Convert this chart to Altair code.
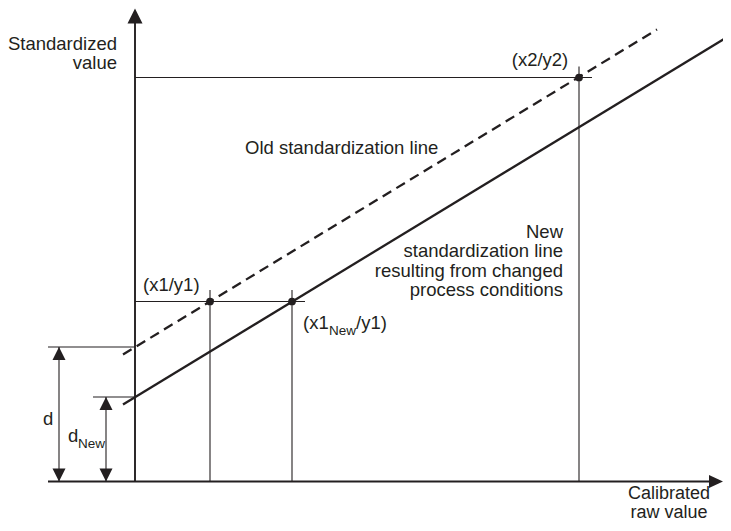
import altair as alt
import pandas as pd

# ---- coordinate frame (origin at the axis crossing, units ~ screen pixels) ----
X_DOMAIN = [-127, 588]
Y_DOMAIN = [-40.5, 473.5]
W, H = 715, 514

# ---- standardization lines (end points) ----
old_line_x = [-12, 522]
old_line_y = [127, 452]
new_line_x = [-12, 598]
new_line_y = [77, 448]

# ---- characteristic points ----
point_names = ["x1/y1", "x1New/y1", "x2/y2"]
point_x = [75, 157, 444]
point_y = [180, 180, 404]

# ---- offsets d and d_New ----
d_old = 134.5
d_new = 84.5
d_arrow_x = -76
dnew_arrow_x = -29

# ---- thin helper segments: x, y, x2, y2 ----
seg_x1 = [0, 444, 0, 75, 157, -87, -42, d_arrow_x, dnew_arrow_x]
seg_y1 = [404, 0, 180, 0, 0, d_old, d_new, 0, 0]
seg_x2 = [457, 444, 170, 75, 157, 0, 0, d_arrow_x, dnew_arrow_x]
seg_y2 = [404, 415, 180, 191.5, 191.5, d_old, d_new, d_old, d_new]

# ---- axes ----
axis_x1 = [0, -87]
axis_y1 = [0, 0]
axis_x2 = [0, 577]
axis_y2 = [462, 0]

# ---- arrow heads (tip positions) ----
small_up_x = [d_arrow_x, dnew_arrow_x]
small_up_y = [d_old, d_new]
small_down_x = [d_arrow_x, dnew_arrow_x]
small_down_y = [0, 0]
yaxis_tip = (0, 473)
xaxis_tip = (588, 0)

# ---- labels ----
left_text = ["Old standardization line", "(x1/y1)", "(x1", "/y1)", "d", "d"]
left_x = [110, 8, 168, 221, -92, -67]
left_y = [328, 191, 153, 153, 56.5, 39.8]

right_text = ["Standardized", "value", "New", "standardization line",
              "resulting from changed", "process conditions"]
right_x = [-18, -18, 428, 428, 428, 428]
right_y = [431.5, 412.5, 243.5, 224.5, 205, 186]

center_text = ["(x2/y2)"]
center_x = [405]
center_y = [415.5]

xlabel_text = ["Calibrated", "raw value"]
xlabel_x = [534, 534]
xlabel_y = [-17, -36.5]

sub_text = ["New", "New"]
sub_x = [194, -57]
sub_y = [146.5, 33.2]

FONT = "Liberation Sans"
INK = "#231f20"

xs = alt.Scale(domain=X_DOMAIN, nice=False, zero=False)
ys = alt.Scale(domain=Y_DOMAIN, nice=False, zero=False)


def X(f="x"):
    return alt.X(f"{f}:Q", scale=xs, axis=None)


def Y(f="y"):
    return alt.Y(f"{f}:Q", scale=ys, axis=None)


seg_df = pd.DataFrame({"x": seg_x1, "y": seg_y1, "x2": seg_x2, "y2": seg_y2})
axis_df = pd.DataFrame({"x": axis_x1, "y": axis_y1, "x2": axis_x2, "y2": axis_y2})
old_df = pd.DataFrame({"x": old_line_x, "y": old_line_y})
new_df = pd.DataFrame({"x": new_line_x, "y": new_line_y})
pt_df = pd.DataFrame({"name": point_names, "x": point_x, "y": point_y})

helpers = alt.Chart(seg_df).mark_rule(color=INK, strokeWidth=1.1).encode(
    x=X(), y=Y(), x2="x2:Q", y2="y2:Q")
axes = alt.Chart(axis_df).mark_rule(color=INK, strokeWidth=1.9).encode(
    x=X(), y=Y(), x2="x2:Q", y2="y2:Q")
old_line = alt.Chart(old_df).mark_line(color=INK, strokeWidth=2.3, strokeDash=[10, 6]).encode(
    x=X(), y=Y())
new_line = alt.Chart(new_df).mark_line(color=INK, strokeWidth=2.3, clip=True).encode(
    x=X(), y=Y())
dots = alt.Chart(pt_df).mark_point(shape="circle", filled=True, size=60, opacity=1, color=INK).encode(
    x=X(), y=Y())

UP = "M0,0L-0.5,1L0.5,1Z"
DOWN = "M0,0L-0.5,-1L0.5,-1Z"
up_small = alt.Chart(pd.DataFrame({"x": small_up_x, "y": small_up_y})).mark_point(
    shape=UP, filled=True, size=676, opacity=1, color=INK, strokeWidth=0).encode(x=X(), y=Y())
down_small = alt.Chart(pd.DataFrame({"x": small_down_x, "y": small_down_y})).mark_point(
    shape=DOWN, filled=True, size=676, opacity=1, color=INK, strokeWidth=0).encode(x=X(), y=Y())
y_arrow = alt.Chart(pd.DataFrame({"x": [yaxis_tip[0]], "y": [yaxis_tip[1]]})).mark_point(
    shape="M0,0L-0.5,1L0.5,1Z", filled=True, size=900, opacity=1, color=INK, strokeWidth=0).encode(
    x=X(), y=Y())
x_arrow = alt.Chart(pd.DataFrame({"x": [xaxis_tip[0]], "y": [xaxis_tip[1]]})).mark_point(
    shape="M0,0L-1,-0.46L-1,0.46Z", filled=True, size=784, opacity=1, color=INK, strokeWidth=0).encode(
    x=X(), y=Y())


def texts(t, x, y, align, size=18.5):
    df = pd.DataFrame({"t": t, "x": x, "y": y})
    return alt.Chart(df).mark_text(align=align, baseline="alphabetic", font=FONT,
                                   fontSize=size, color=INK).encode(
        x=X(), y=Y(), text="t:N")


labels = (texts(left_text, left_x, left_y, "left")
          + texts(right_text, right_x, right_y, "right")
          + texts(center_text, center_x, center_y, "center")
          + texts(xlabel_text, xlabel_x, xlabel_y, "center", size=18)
          + texts(sub_text, sub_x, sub_y, "left", size=13.5))

chart = alt.layer(helpers, axes, old_line, new_line, dots, up_small, down_small,
                  y_arrow, x_arrow, labels).properties(
    width=W, height=H, padding=0,
    autosize=alt.AutoSizeParams(type="none"),
    background="white",
).configure_view(stroke=None)

chart.save("out.html", embed_options={"renderer": "svg", "actions": False})
